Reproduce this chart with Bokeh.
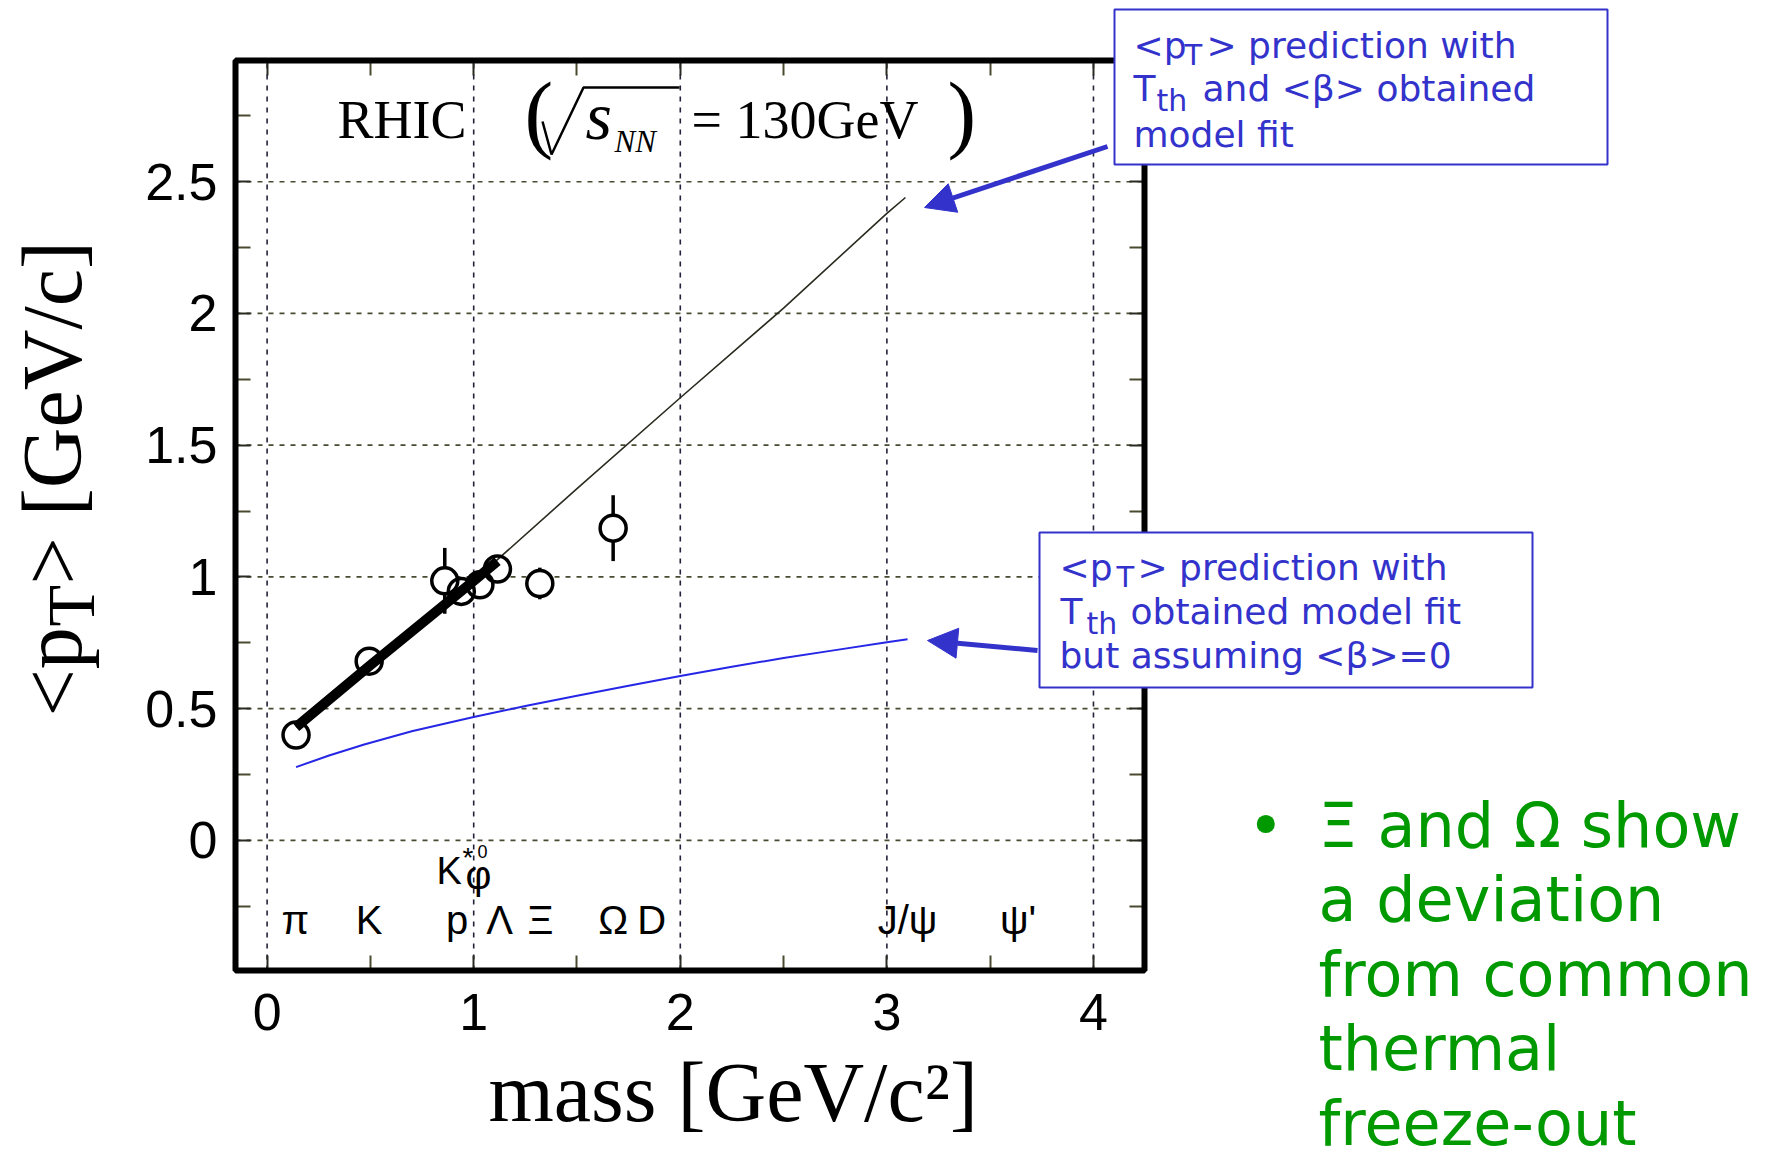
import math
from bokeh.plotting import figure
from bokeh.models import (Label, Arrow, NormalHead, BoxAnnotation, LinearAxis,
                          FixedTicker, CustomJSTickFormatter, Range1d)
from bokeh.embed import file_html
from bokeh.resources import INLINE
from bokeh.core.properties import value

# ---------------- data ----------------
mass = [0.14, 0.494, 0.86, 0.94, 1.03, 1.115, 1.32, 1.675]
mean_pt = [0.40, 0.68, 0.985, 0.945, 0.97, 1.03, 0.975, 1.185]
mean_pt_err = [0.0, 0.0, 0.125, 0.0, 0.0, 0.0, 0.06, 0.125]

flow_mass = [0.14, 0.5, 1.0, 1.5, 2.0, 2.5, 3.0, 3.09]
flow_pt = [0.43, 0.665, 0.985, 1.335, 1.68, 2.02, 2.38, 2.44]
fit_mass = [0.14, 0.5, 1.0, 1.115]
fit_pt = [0.43, 0.665, 0.985, 1.06]
noflow_mass = [0.14, 0.3, 0.47, 0.7, 1.0, 1.25, 1.5, 1.75, 2.0, 2.25, 2.5, 2.75, 3.0, 3.1]
noflow_pt = [0.278, 0.322, 0.364, 0.414, 0.468, 0.51, 0.549, 0.587, 0.624, 0.659, 0.692,
             0.722, 0.752, 0.763]

particle_names = ["π", "K", "p", "Λ", "Ξ", "Ω", "D", "J/ψ", "ψ'"]
particle_label_x = [0.137, 0.494, 0.92, 1.125, 1.323, 1.675, 1.861, 3.10, 3.635]

x_ticks = [0, 1, 2, 3, 4]
x_tick_labels = ["0", "1", "2", "3", "4"]
x_minor_ticks = [0.5, 1.5, 2.5, 3.5]
y_ticks = [0, 0.5, 1, 1.5, 2, 2.5]
y_tick_labels = ["0", "0.5", "1", "1.5", "2", "2.5"]
y_minor_ticks = [-0.25, 0.25, 0.75, 1.25, 1.75, 2.25, 2.75]

# plotted box: data limits
XMIN, XMAX = -0.153, 4.247
YMIN, YMAX = -0.494, 2.96

# ---------------- layout ----------------
W, H = 1779, 1160
FL, FR, FT, FB = 235, 1144, 60, 970          # pixel edges of the plotted box
BLUE = "#3333cc"
GREEN = "#009900"
MID = {"DejaVu Sans": 0.346, "Liberation Sans": 0.3465, "Liberation Serif": 0.3375}


def dx(px):
    return XMIN + (px - FL) / (FR - FL) * (XMAX - XMIN)


def dy(py):
    return YMAX - (py - FT) / (FB - FT) * (YMAX - YMIN)


# The frame spans the whole canvas so that nothing is clipped; the axes are
# pinned (fixed_location) to the edges of the plotted box.
p = figure(width=W, height=H,
           x_range=Range1d(dx(0), dx(W)), y_range=Range1d(dy(H), dy(0)),
           output_backend="svg", toolbar_location=None, title=None,
           min_border=0, min_border_left=0, min_border_right=0,
           min_border_top=0, min_border_bottom=0)
p.background_fill_color = "white"
p.border_fill_color = "white"
p.outline_line_color = None
p.grid.visible = False

bottom_ax = p.xaxis[0]
left_ax = p.yaxis[0]
bottom_ax.fixed_location = YMIN
left_ax.fixed_location = XMIN
bottom_ax.ticker = FixedTicker(ticks=x_ticks, minor_ticks=x_minor_ticks)
left_ax.ticker = FixedTicker(ticks=y_ticks, minor_ticks=y_minor_ticks)
bottom_ax.major_label_overrides = dict(zip(x_ticks, x_tick_labels))
left_ax.major_label_overrides = dict(zip(y_ticks, y_tick_labels))

top_ax = LinearAxis(fixed_location=YMAX,
                    ticker=FixedTicker(ticks=x_ticks, minor_ticks=x_minor_ticks),
                    formatter=CustomJSTickFormatter(code="return ''"))
right_ax = LinearAxis(fixed_location=XMAX,
                      ticker=FixedTicker(ticks=y_ticks, minor_ticks=y_minor_ticks),
                      formatter=CustomJSTickFormatter(code="return ''"))
p.add_layout(top_ax, "above")
p.add_layout(right_ax, "right")

for ax in (bottom_ax, left_ax, top_ax, right_ax):
    ax.axis_line_color = None
    ax.major_tick_in = 15
    ax.major_tick_out = 0
    ax.minor_tick_in = 15
    ax.minor_tick_out = 0
    ax.major_tick_line_color = "#2a2a22"
    ax.minor_tick_line_color = "#4a4a30"
    ax.major_tick_line_width = 2
    ax.minor_tick_line_width = 2
    ax.major_label_text_font = "Liberation Sans"
    ax.major_label_text_font_size = "52px"
    ax.major_label_text_color = "black"
top_ax.major_label_standoff = 0
right_ax.major_label_standoff = 0
bottom_ax.major_label_standoff = 23
left_ax.major_label_standoff = 18

# dotted grid lines at the major ticks, limited to the plotted box
p.segment(x0=x_ticks, y0=[YMIN] * len(x_ticks), x1=x_ticks, y1=[YMAX] * len(x_ticks),
          line_color="#22223a", line_dash="5 6", line_width=1.6)
p.segment(x0=[XMIN] * len(y_ticks), y0=y_ticks, x1=[XMAX] * len(y_ticks), y1=y_ticks,
          line_color="#4a4a33", line_dash="5 6", line_width=1.6)

# ---------------- marks ----------------
err_lo = [m - e for m, e in zip(mean_pt, mean_pt_err)]
err_hi = [m + e for m, e in zip(mean_pt, mean_pt_err)]
p.segment(x0=mass, y0=err_lo, x1=mass, y1=err_hi, line_color="black", line_width=3.5)
p.scatter(mass, mean_pt, marker="circle", size=26, fill_color="white", line_color=None)

p.line(flow_mass, flow_pt, line_color="#2a2a1f", line_width=1.6)
p.line(fit_mass, fit_pt, line_color="black", line_width=10)
p.line(noflow_mass, noflow_pt, line_color="#2626e6", line_width=2)

p.scatter(mass, mean_pt, marker="circle", size=26, fill_color=None,
          line_color="black", line_width=3.5)

# particle names along the bottom
p.text(x=particle_label_x, y=[dy(933 - MID["Liberation Sans"] * 40)] * len(particle_names),
       text=particle_names,
       text_font=value("Liberation Sans"), text_font_size=value("40px"),
       text_align="center", text_baseline="middle", text_color="black")

# frame of the plotted box
p.add_layout(BoxAnnotation(left=XMIN, right=XMAX, bottom=YMIN, top=YMAX,
                           fill_color=None, fill_alpha=0.0,
                           line_color="black", line_width=6, line_alpha=1.0))


def add_label(text, px, py, size, font="DejaVu Sans", color="black", style="normal",
              rotated=False, align="left"):
    """px, py: pixel position of the start of the text baseline."""
    k = MID[font] * size
    if rotated:
        x, y, angle = dx(px - k), dy(py), math.pi / 2
    else:
        x, y, angle = dx(px), dy(py - k), 0.0
    p.add_layout(Label(x=x, y=y, text=text, text_font=font,
                       text_font_size=f"{size}px", text_color=color,
                       text_font_style=style, angle=angle,
                       text_align=align, text_baseline="middle"))


# K*0 and phi labels
add_label("K", 436, 884, 38, font="Liberation Sans")
add_label("*", 462, 867, 28, font="Liberation Sans")
add_label("0", 477, 857, 18, font="Liberation Sans")
add_label("φ", 478, 888, 40, font="Liberation Sans", align="center")

# RHIC title inside the frame
add_label("RHIC", 337, 138, 54, font="Liberation Serif")
add_label("(", 524, 142, 86, font="Liberation Serif")
rad_px = [542, 551, 583, 679]
rad_py = [121, 154, 87, 87]
p.line([dx(v) for v in rad_px], [dy(v) for v in rad_py], line_color="black", line_width=2.5)
add_label("s", 585, 138, 68, font="Liberation Serif", style="italic")
add_label("NN", 614, 151, 31, font="Liberation Serif", style="italic")
add_label("= 130GeV", 691, 138, 54, font="Liberation Serif")
add_label(")", 947, 142, 86, font="Liberation Serif")

# axis titles
add_label("<p", 80, 716, 84, font="Liberation Serif", rotated=True)
add_label("T", 93, 626, 68, font="Liberation Serif", rotated=True)
add_label("> [GeV/c]", 80, 584, 84, font="Liberation Serif", rotated=True)
add_label("mass [GeV/c²]", 488, 1120, 84, font="Liberation Serif")

# ---------------- callout boxes ----------------
p.add_layout(BoxAnnotation(left=dx(1114), right=dx(1607), top=dy(9), bottom=dy(164),
                           fill_color="white", fill_alpha=1.0,
                           line_color=BLUE, line_width=2, line_alpha=1.0))
p.add_layout(BoxAnnotation(left=dx(1039), right=dx(1532), top=dy(532), bottom=dy(687),
                           fill_color="white", fill_alpha=1.0,
                           line_color=BLUE, line_width=2, line_alpha=1.0))

p.add_layout(Arrow(end=NormalHead(size=30, fill_color=BLUE, line_color=BLUE, line_width=1),
                   x_start=dx(1107), y_start=dy(146), x_end=dx(924), y_end=dy(207),
                   line_color=BLUE, line_width=5))
p.add_layout(Arrow(end=NormalHead(size=30, fill_color=BLUE, line_color=BLUE, line_width=1),
                   x_start=dx(1037), y_start=dy(650), x_end=dx(927), y_end=dy(640),
                   line_color=BLUE, line_width=5))

# box 1 text
add_label("<p", 1133, 57, 36, color=BLUE)
add_label("T", 1184, 65, 29, color=BLUE)
add_label("> prediction with", 1206, 57, 36, color=BLUE)
add_label("T", 1133, 100, 36, color=BLUE)
add_label("th", 1156, 110, 30, color=BLUE)
add_label("and <β> obtained", 1202, 100, 36, color=BLUE)
add_label("model fit", 1133, 146, 36, color=BLUE)

# box 2 text
add_label("<p", 1059, 579, 36, color=BLUE)
add_label("T", 1116, 587, 29, color=BLUE)
add_label("> prediction with", 1137, 579, 36, color=BLUE)
add_label("T", 1060, 623, 36, color=BLUE)
add_label("th", 1086, 633, 30, color=BLUE)
add_label("obtained model fit", 1130, 623, 36, color=BLUE)
add_label("but assuming <β>=0", 1059, 667, 36, color=BLUE)

# green bullet text
add_label("•", 1247, 846, 62, color=GREEN)
green_lines = ["Ξ and Ω show", "a deviation", "from common", "thermal", "freeze-out"]
for i, t in enumerate(green_lines):
    add_label(t, 1318, 846 + i * 74.5, 62, color=GREEN)

open("out.html", "w").write(file_html(p, INLINE))
